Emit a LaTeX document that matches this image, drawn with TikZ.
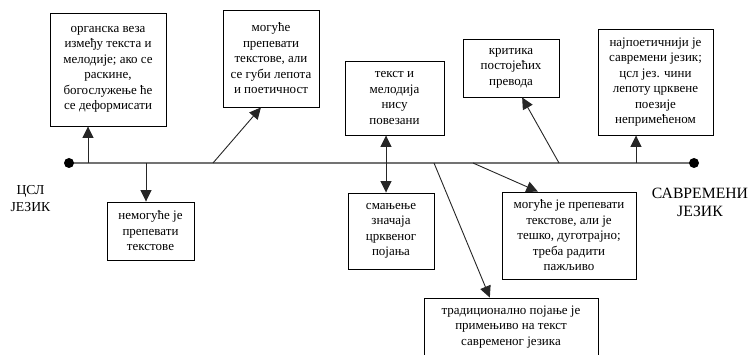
\documentclass[tikz,border=0pt]{standalone}
\usepackage{fontspec}
\setmainfont{Liberation Serif}
\usetikzlibrary{arrows.meta,calc}
\begin{document}
\begin{tikzpicture}[x=1pt,y=-1pt,
  box/.style={draw=black, line width=0.9pt, inner sep=0pt, align=center,
    font=\fontsize{13}{15.5}\selectfont},
  spine/.style={draw=black!55, line width=1.8pt},
  arr/.style={draw=black!85, line width=0.9pt, -{Triangle[length=11.5pt,width=11pt]}},
  darr/.style={draw=black!85, line width=0.9pt, {Triangle[length=11.5pt,width=11pt]}-{Triangle[length=11.5pt,width=11pt]}},
  dot/.style={circle, fill=black, inner sep=0pt, minimum size=10pt},
  side/.style={align=center}]
\useasboundingbox (0,0) rectangle (751,355);
% spine
\coordinate (L) at (69,163);
\coordinate (R) at (694,163);
\draw[spine] (L) -- (R);
\node[dot] (dL) at (L) {};
\node[dot] (dR) at (R) {};
% boxes
\node[box, minimum width=116pt, minimum height=113pt] (b1) at (108,69.5)
  {органска веза\\између текста и\\мелодије; ако се\\раскине,\\богослужење ће\\се деформисати};
\node[box, minimum width=96pt, minimum height=97pt] (b2) at (271,58.5)
  {могуће\\препевати\\текстове, али\\се губи лепота\\и поетичност};
\node[box, minimum width=99pt, minimum height=74pt] (b3) at (394.5,98)
  {текст и\\мелодија\\нису\\повезани};
\node[box, minimum width=96pt, minimum height=58pt] (b4) at (511,68)
  {критика\\постојећих\\превода};
\node[box, minimum width=115pt, minimum height=106pt] (b5) at (655.5,82)
  {најпоетичнији је\\савремени језик;\\цсл јез. чини\\лепоту црквене\\поезије\\непримећеном};
\node[box, minimum width=87pt, minimum height=58pt] (b6) at (150.5,231)
  {немогуће је\\препевати\\текстове};
\node[box, minimum width=86pt, minimum height=76pt] (b7) at (391,231)
  {смањење\\значаја\\црквеног\\појања};
\node[box, minimum width=134pt, minimum height=87pt] (b8) at (569,235.5)
  {могуће је препевати\\текстове, али је\\тешко, дуготрајно;\\треба радити\\пажљиво};
\node[box, minimum width=174pt, minimum height=58pt] (b9) at (511,327)
  {традиционално појање је\\примењиво на текст\\савременог језика};
% side labels
\node[side, font=\fontsize{13.7}{17}\selectfont] (csl) at (30.5,199) {ЦСЛ\\ЈЕЗИК};
\node[side, font=\fontsize{15.7}{18}\selectfont] (sav) at (700,202) {САВРЕМЕНИ\\ЈЕЗИК};
% feet on the spine
\coordinate (f1) at (88,163);
\coordinate (f2) at (213,163);
\coordinate (f3) at (386,163);
\coordinate (f4) at (559,163);
\coordinate (f5) at (636,163);
\coordinate (f6) at (146,163);
\coordinate (f7) at (473,163);
\coordinate (f8) at (434,163);
% connectors
\draw[arr] (f1) -- (f1 |- b1.south);
\draw[arr] (f2) -- ($(b2.south west)!0.396!(b2.south east)$);
\draw[darr] (b3.south -| f3) -- (b7.north -| f3);
\draw[arr] (f4) -- ($(b4.south west)!0.615!(b4.south east)$);
\draw[arr] (f5) -- (f5 |- b5.south);
\draw[arr] (f6) -- (f6 |- b6.north);
\draw[arr] (f7) -- ($(b8.north west)!0.269!(b8.north east)$);
\draw[arr] (f8) -- ($(b9.north west)!0.379!(b9.north east)$);
\end{tikzpicture}
\end{document}
